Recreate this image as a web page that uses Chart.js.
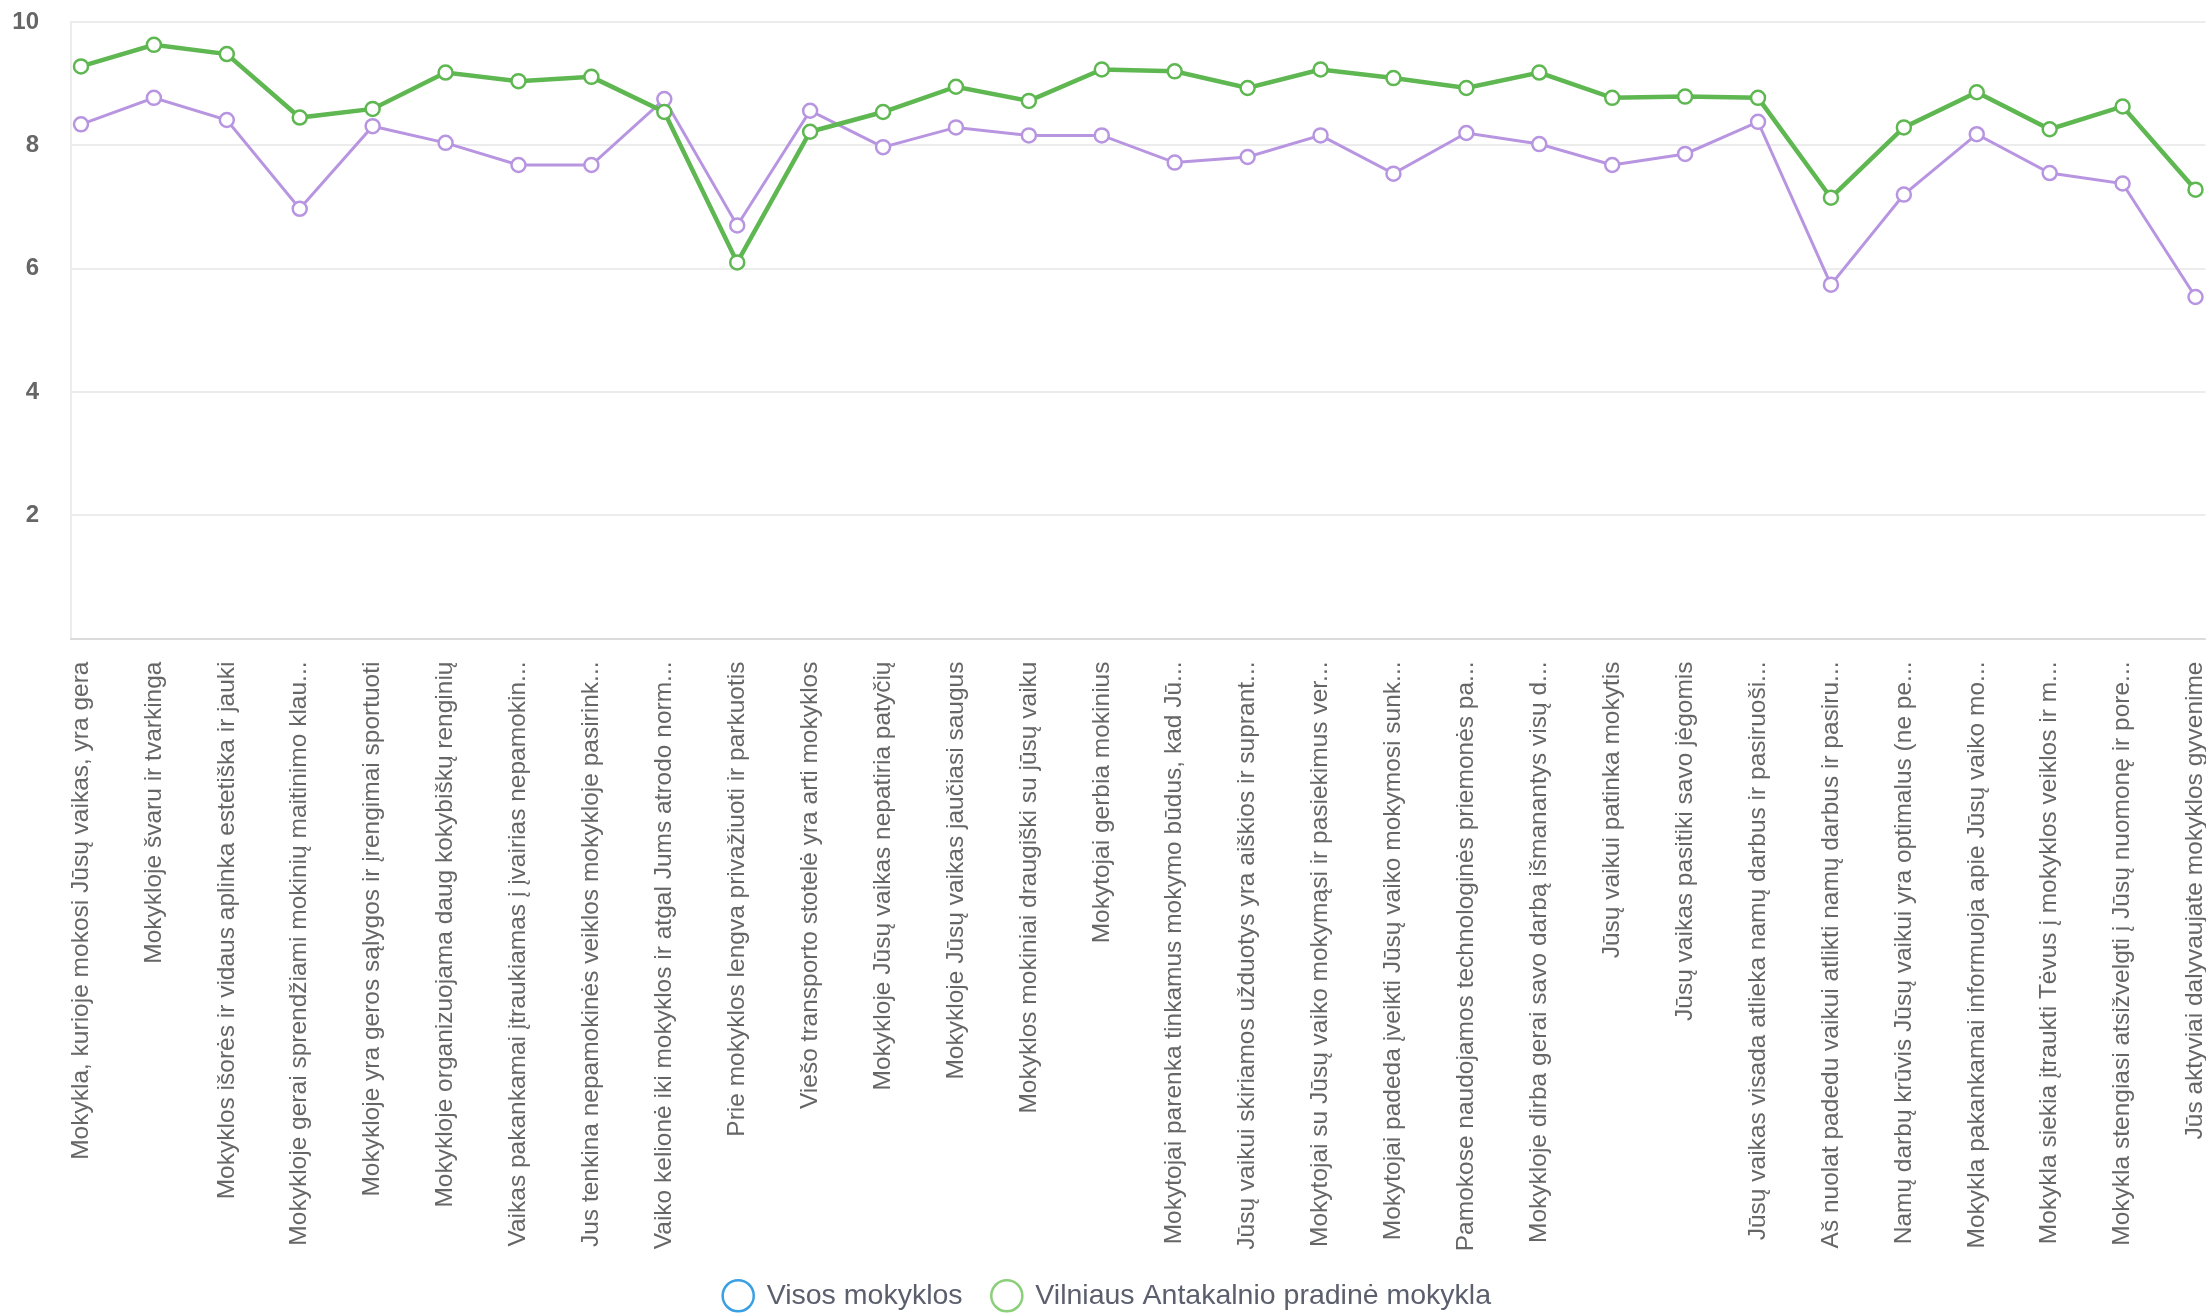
<!DOCTYPE html>
<html>
<head>
<meta charset="utf-8">
<script src="https://cdn.jsdelivr.net/npm/chart.js@4.4.1/dist/chart.umd.min.js"></script>
<style>
    html, body { margin: 0; padding: 0; background: #fff; overflow: hidden; }
    #wrap { width: 2215px; height: 1320px; }
</style>
</head>
<body>
<div id="wrap"><canvas id="surveyChart"></canvas></div>
<script>
// question labels, as shown under the axis
const questions = [
    'Mokykla, kurioje mokosi Jūsų vaikas, yra gera',
    'Mokykloje švaru ir tvarkinga',
    'Mokyklos išorės ir vidaus aplinka estetiška ir jauki',
    'Mokykloje gerai sprendžiami mokinių maitinimo klau...',
    'Mokykloje yra geros sąlygos ir įrengimai sportuoti',
    'Mokykloje organizuojama daug kokybiškų renginių',
    'Vaikas pakankamai įtraukiamas į įvairias nepamokin...',
    'Jus tenkina nepamokinės veiklos mokykloje pasirink...',
    'Vaiko kelionė iki mokyklos ir atgal Jums atrodo norm...',
    'Prie mokyklos lengva privažiuoti ir parkuotis',
    'Viešo transporto stotelė yra arti mokyklos',
    'Mokykloje Jūsų vaikas nepatiria patyčių',
    'Mokykloje Jūsų vaikas jaučiasi saugus',
    'Mokyklos mokiniai draugiški su jūsų vaiku',
    'Mokytojai gerbia mokinius',
    'Mokytojai parenka tinkamus mokymo būdus, kad Jū...',
    'Jūsų vaikui skiriamos užduotys yra aiškios ir suprant...',
    'Mokytojai su Jūsų vaiko mokymąsi ir pasiekimus ver...',
    'Mokytojai padeda įveikti Jūsų vaiko mokymosi sunk...',
    'Pamokose naudojamos technologinės priemonės pa...',
    'Mokykloje dirba gerai savo darbą išmanantys visų d...',
    'Jūsų vaikui patinka mokytis',
    'Jūsų vaikas pasitiki savo jėgomis',
    'Jūsų vaikas visada atlieka namų darbus ir pasiruoši...',
    'Aš nuolat padedu vaikui atlikti namų darbus ir pasiru...',
    'Namų darbų krūvis Jūsų vaikui yra optimalus (ne pe...',
    'Mokykla pakankamai informuoja apie Jūsų vaiko mo...',
    'Mokykla siekia įtraukti Tėvus į mokyklos veiklos ir m...',
    'Mokykla stengiasi atsižvelgti į Jūsų nuomonę ir pore...',
    'Jūs aktyviai dalyvaujate mokyklos gyvenime'
];

const allSchoolsName = 'Visos mokyklos';
const thisSchoolName = 'Vilniaus Antakalnio pradinė mokykla';

const allSchools = [8.34, 8.77, 8.41, 6.97, 8.31, 8.04, 7.68, 7.68, 8.75, 6.70,
                    8.56, 7.97, 8.29, 8.16, 8.16, 7.72, 7.81, 8.16, 7.54, 8.20,
                    8.02, 7.68, 7.86, 8.38, 5.74, 7.20, 8.18, 7.55, 7.38, 5.54];

const thisSchool = [9.28, 9.63, 9.48, 8.45, 8.59, 9.18, 9.04, 9.11, 8.54, 6.10,
                    8.22, 8.54, 8.95, 8.72, 9.23, 9.20, 8.93, 9.23, 9.09, 8.93,
                    9.18, 8.77, 8.79, 8.77, 7.15, 8.29, 8.86, 8.26, 8.63, 7.28];

const yMin = 0, yMax = 10, yStep = 2;

const toPoints = arr => arr.map((v, i) => ({ x: i, y: v }));
const gridGrey = 'rgba(0,0,0,0.075)';
const fontFamily = 'Liberation Sans, Arial, sans-serif';

new Chart(document.getElementById('surveyChart'), {
    type: 'line',
    data: {
        datasets: [
            {
                label: thisSchoolName,
                data: toPoints(thisSchool),
                borderColor: '#5eb751',
                borderWidth: 4.5,
                pointBackgroundColor: '#fff',
                pointBorderColor: '#5eb751',
                pointBorderWidth: 2.5,
                pointRadius: 7,
                legendStroke: '#8bcf7a'
            },
            {
                label: allSchoolsName,
                data: toPoints(allSchools),
                borderColor: '#b895e0',
                borderWidth: 3,
                pointBackgroundColor: '#fff',
                pointBorderColor: '#b895e0',
                pointBorderWidth: 2.5,
                pointRadius: 7,
                legendStroke: '#3aa0e4'
            }
        ]
    },
    options: {
        responsive: true,
        maintainAspectRatio: false,
        animation: false,
        layout: { padding: { top: 22, left: 0, right: 0, bottom: 0 } },
        plugins: {
            tooltip: { enabled: false },
            legend: {
                position: 'bottom',
                labels: {
                    usePointStyle: true,
                    boxHeight: 22,
                    padding: 30,
                    color: '#5b5f6d',
                    font: { family: fontFamily, size: 28.5 },
                    generateLabels: chart => {
                        const items = Chart.defaults.plugins.legend.labels.generateLabels(chart);
                        items.forEach(it => {
                            it.strokeStyle = chart.data.datasets[it.datasetIndex].legendStroke;
                            it.fillStyle = '#fff';
                            it.lineWidth = 2.5;
                        });
                        return items.reverse();
                    }
                }
            }
        },
        scales: {
            x: {
                type: 'linear',
                min: -0.137,
                max: questions.length - 1 + 0.137,
                afterBuildTicks: scale => {
                    scale.ticks = questions.map((q, i) => ({ value: i }));
                },
                afterFit: scale => {
                    scale.paddingLeft = 0;
                    scale.paddingRight = 0;
                    scale.height = 613;
                },
                grid: { display: false, drawTicks: false },
                border: { display: true, color: gridGrey, width: 2 },
                ticks: {
                    autoSkip: false,
                    minRotation: 90,
                    maxRotation: 90,
                    padding: 23,
                    color: '#666',
                    font: { family: fontFamily, size: 24.5 },
                    callback: value => questions[value]
                }
            },
            y: {
                min: yMin,
                max: yMax,
                afterFit: scale => {
                    scale.width = 71;
                    scale.paddingTop = 0;
                    scale.paddingBottom = 0;
                },
                grid: { color: gridGrey, lineWidth: 2, drawTicks: false },
                border: { display: true, color: gridGrey, width: 2 },
                ticks: {
                    stepSize: yStep,
                    padding: 32,
                    color: '#666',
                    font: { family: fontFamily, size: 24, weight: 'bold' },
                    callback: value => (value === yMin ? '' : value)
                }
            }
        }
    }
});
</script>
</body>
</html>
